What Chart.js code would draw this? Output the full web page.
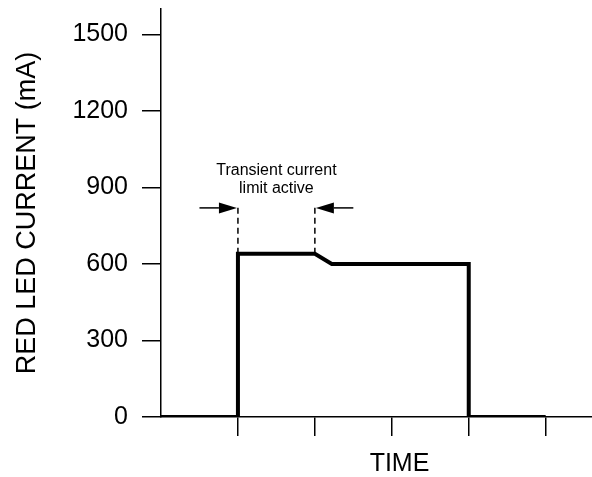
<!DOCTYPE html>
<html>
<head>
<meta charset="utf-8">
<script src="https://cdn.jsdelivr.net/npm/chart.js@4.4.1/dist/chart.umd.min.js"></script>
<style>
  html, body { margin: 0; padding: 0; background: #fff; overflow: hidden; }
  #wrap { width: 638px; height: 477px; }
</style>
</head>
<body>
<div id="wrap"><canvas id="ledChart"></canvas></div>
<script>
// ===== データ =====
const timeX = [0, 1, 1, 2, 2.22, 4, 4, 5];
const currentY = [0, 0, 640, 640, 600, 600, 0, 0];

const xTicks = [1, 2, 3, 4, 5];
const yTicks = [0, 300, 600, 900, 1200, 1500];

// 過渡電流制限の区間（破線・矢印・注記）
const limitStartX = 1;
const limitEndX = 2;
const limitBottomY = 640;
const limitTopY = 830;
const arrowY = 820;
const arrowTailX = [0.5, 2.5];
const noteLines = ['Transient current', 'limit active'];
const noteY = [968, 895];

const FONT = "'Liberation Sans', Arial, sans-serif";

// 矢印と注記を描くプラグイン
const notePlugin = {
  id: 'notePlugin',
  afterDatasetsDraw(chart) {
    const { ctx, scales: { x, y } } = chart;
    ctx.save();
    ctx.strokeStyle = '#000';
    ctx.fillStyle = '#000';
    ctx.lineWidth = 1.5;

    const heads = [limitStartX, limitEndX];
    heads.forEach((hx, i) => {
      const px = x.getPixelForValue(hx);
      const tx = x.getPixelForValue(arrowTailX[i]);
      const py = y.getPixelForValue(arrowY);
      const dir = px > tx ? 1 : -1;
      const headLen = 19, headHalf = 5.5;
      ctx.beginPath();
      ctx.moveTo(tx, py);
      ctx.lineTo(px - dir * headLen, py);
      ctx.stroke();
      ctx.beginPath();
      ctx.moveTo(px - dir * 1, py);
      ctx.lineTo(px - dir * headLen, py - headHalf);
      ctx.lineTo(px - dir * headLen, py + headHalf);
      ctx.closePath();
      ctx.fill();
    });

    ctx.font = '16px ' + FONT;
    ctx.textAlign = 'center';
    ctx.textBaseline = 'middle';
    const cx = x.getPixelForValue((limitStartX + limitEndX) / 2);
    noteLines.forEach((t, i) => {
      ctx.fillText(t, cx, y.getPixelForValue(noteY[i]));
    });
    ctx.restore();
  }
};

const canvas = document.getElementById('ledChart');

new Chart(canvas, {
  type: 'scatter',
  data: {
    datasets: [
      {
        data: timeX.map((t, i) => ({ x: t, y: currentY[i] })),
        showLine: true,
        borderColor: '#000',
        borderWidth: 4,
        borderJoinStyle: 'miter',
        borderCapStyle: 'butt',
        pointRadius: 0,
        tension: 0
      },
      {
        data: [
          { x: limitStartX, y: limitBottomY }, { x: limitStartX, y: limitTopY },
          { x: null, y: null },
          { x: limitEndX, y: limitBottomY }, { x: limitEndX, y: limitTopY }
        ],
        showLine: true,
        spanGaps: false,
        borderColor: '#000',
        borderWidth: 1.5,
        borderDash: [6, 4],
        pointRadius: 0
      }
    ]
  },
  options: {
    responsive: true,
    maintainAspectRatio: false,
    animation: false,
    layout: { padding: { top: 9, left: 0, right: 0, bottom: 0 } },
    plugins: {
      legend: { display: false },
      tooltip: { enabled: false }
    },
    scales: {
      x: {
        type: 'linear',
        min: 0,
        max: 6.2,
        afterBuildTicks: s => { s.ticks = xTicks.map(v => ({ value: v })); },
        afterFit: s => { s.height = 60; s.paddingLeft = 0; s.paddingRight = 0; },
        ticks: { display: false },
        grid: {
          drawOnChartArea: false,
          drawTicks: true,
          tickLength: 19,
          color: '#000',
          lineWidth: 1.5
        },
        border: { display: true, color: '#000', width: 1.5 },
        title: {
          display: true,
          text: 'TIME',
          color: '#000',
          font: { family: FONT, size: 25, lineHeight: 1 },
          padding: { top: 0, bottom: 0 }
        }
      },
      y: {
        min: 0,
        max: 1600,
        afterBuildTicks: s => { s.ticks = yTicks.map(v => ({ value: v })); },
        afterFit: s => { s.width = 161; s.paddingTop = 0; s.paddingBottom = 0; },
        ticks: {
          color: '#000',
          padding: 14,
          font: { family: FONT, size: 25 },
          callback: v => String(v)
        },
        grid: {
          drawOnChartArea: false,
          drawTicks: true,
          tickLength: 19,
          color: '#000',
          lineWidth: 1.5
        },
        border: { display: true, color: '#000', width: 1.5 },
        title: {
          display: true,
          text: 'RED LED CURRENT (mA)',
          color: '#000',
          font: { family: FONT, size: 27, lineHeight: 1 },
          padding: { top: 14.5, bottom: 0 }
        }
      }
    }
  },
  plugins: [notePlugin]
});
</script>
</body>
</html>
